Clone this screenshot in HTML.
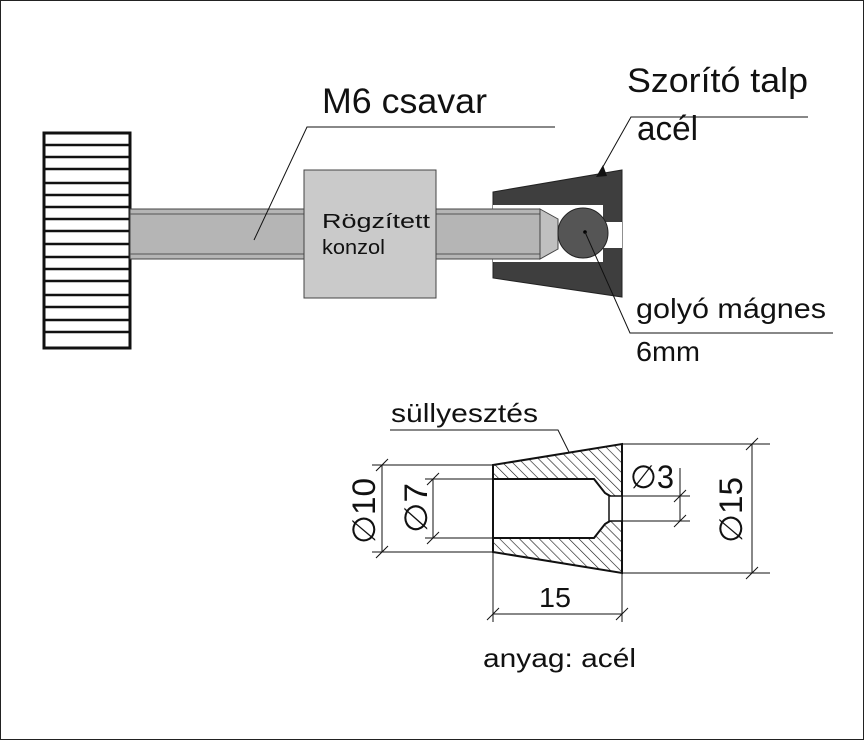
<!DOCTYPE html>
<html><head><style>body{margin:0;background:#fff}svg{display:block}text{font-family:"Liberation Sans",sans-serif;fill:#111}</style></head><body>
<svg width="864" height="740" viewBox="0 0 864 740" xmlns="http://www.w3.org/2000/svg">
<defs><pattern id="h" patternUnits="userSpaceOnUse" width="7" height="7" patternTransform="rotate(-45)"><rect width="7" height="7" fill="#fff"/><line x1="0" y1="0" x2="0" y2="7" stroke="#111" stroke-width="1.2"/></pattern></defs>
<rect x="0.5" y="0.5" width="863" height="739" fill="#fff" stroke="#222"/>
<rect x="44" y="133" width="86" height="215" fill="#fff" stroke="#111" stroke-width="3"/>
<g stroke="#111" stroke-width="2.5">
<line x1="44" y1="145" x2="130" y2="145"/><line x1="44" y1="157" x2="130" y2="157"/><line x1="44" y1="169" x2="130" y2="169"/><line x1="44" y1="183" x2="130" y2="183"/><line x1="44" y1="195" x2="130" y2="195"/><line x1="44" y1="207" x2="130" y2="207"/><line x1="44" y1="219" x2="130" y2="219"/><line x1="44" y1="231" x2="130" y2="231"/><line x1="44" y1="244" x2="130" y2="244"/><line x1="44" y1="257" x2="130" y2="257"/><line x1="44" y1="269" x2="130" y2="269"/><line x1="44" y1="281" x2="130" y2="281"/><line x1="44" y1="295" x2="130" y2="295"/><line x1="44" y1="307" x2="130" y2="307"/><line x1="44" y1="320" x2="130" y2="320"/><line x1="44" y1="332" x2="130" y2="332"/></g>
<polygon points="493,192 622,170 622,297 493,278" fill="#3e3e3e" stroke="#222"/>
<rect x="493" y="205" width="110" height="57" fill="#fff"/>
<rect x="600" y="222" width="22" height="26" fill="#fff"/>
<rect x="130" y="209" width="410" height="50" fill="#b5b5b5" stroke="#444"/>
<line x1="130" y1="214" x2="540" y2="214" stroke="#555"/><line x1="130" y1="254" x2="540" y2="254" stroke="#555"/>
<polygon points="540,209 558,219 558,249 540,259" fill="#c0c0c0" stroke="#444"/>
<circle cx="583" cy="233" r="25" fill="#555" stroke="#222"/>
<circle cx="585" cy="232" r="1.8" fill="#000"/>
<rect x="304" y="170" width="132" height="128" fill="#cacaca" stroke="#444"/>
<text x="322" y="228" font-size="20" textLength="108" lengthAdjust="spacingAndGlyphs">Rögzített</text><text x="322" y="254" font-size="20" textLength="63" lengthAdjust="spacingAndGlyphs">konzol</text>
<g stroke="#111" stroke-width="1" fill="none">
<polyline points="254,240 307,127 555,127"/>
<polyline points="600,172 631,117 808,117"/>
<polyline points="585,232 630,333 833,333"/>
<polyline points="390,430 558,430 603,520"/>
</g>
<polygon points="596,177 603,165 607,176" fill="#111"/>
<polygon points="597,515 607,512 604,524" fill="#111"/>
<text x="322" y="113" font-size="35" textLength="165" lengthAdjust="spacingAndGlyphs">M6 csavar</text>
<text x="627" y="92" font-size="34" textLength="181" lengthAdjust="spacingAndGlyphs">Szorító talp</text>
<text x="637" y="140" font-size="34" textLength="61" lengthAdjust="spacingAndGlyphs">acél</text>
<text x="636" y="318" font-size="28" textLength="190" lengthAdjust="spacingAndGlyphs">golyó mágnes</text>
<text x="636" y="361" font-size="28" textLength="64" lengthAdjust="spacingAndGlyphs">6mm</text>
<text x="391" y="422" font-size="26" textLength="147" lengthAdjust="spacingAndGlyphs">süllyesztés</text>
<polygon points="493,465 622,444 622,573 493,552" fill="url(#h)" stroke="#111" stroke-width="2"/>
<polygon points="493,479 594,479 605,493 610,496 610,521 605,524 594,538 493,538" fill="#fff" stroke="#111" stroke-width="2"/>
<rect x="609" y="496" width="13" height="25" fill="#fff" stroke="#111" stroke-width="1.5"/>
<g stroke="#111" stroke-width="1">
<line x1="372" y1="465" x2="493" y2="465"/><line x1="372" y1="552" x2="493" y2="552"/><line x1="382" y1="465" x2="382" y2="552"/>
<line x1="376" y1="471" x2="388" y2="459"/><line x1="376" y1="558" x2="388" y2="546"/>
<line x1="425" y1="479" x2="493" y2="479"/><line x1="425" y1="538" x2="493" y2="538"/><line x1="433" y1="479" x2="433" y2="538"/>
<line x1="427" y1="485" x2="439" y2="473"/><line x1="427" y1="544" x2="439" y2="532"/>
<line x1="622" y1="496" x2="690" y2="496"/><line x1="622" y1="521" x2="690" y2="521"/><line x1="680" y1="468" x2="680" y2="521"/>
<line x1="674" y1="502" x2="686" y2="490"/><line x1="674" y1="527" x2="686" y2="515"/>
<line x1="622" y1="444" x2="770" y2="444"/><line x1="622" y1="573" x2="770" y2="573"/><line x1="752" y1="444" x2="752" y2="573"/>
<line x1="746" y1="450" x2="758" y2="438"/><line x1="746" y1="579" x2="758" y2="567"/>
<line x1="493" y1="552" x2="493" y2="622"/><line x1="622" y1="573" x2="622" y2="622"/><line x1="493" y1="614" x2="622" y2="614"/>
<line x1="487" y1="620" x2="499" y2="608"/><line x1="616" y1="620" x2="628" y2="608"/>
</g>
<text font-size="32" transform="translate(375,511) rotate(-90)" text-anchor="middle" textLength="66" lengthAdjust="spacingAndGlyphs">∅10</text>
<text font-size="32" transform="translate(427,508) rotate(-90)" text-anchor="middle" textLength="50" lengthAdjust="spacingAndGlyphs">∅7</text>
<text font-size="32" transform="translate(742,510) rotate(-90)" text-anchor="middle" textLength="66" lengthAdjust="spacingAndGlyphs">∅15</text>
<text x="630" y="488" font-size="32" textLength="44" lengthAdjust="spacingAndGlyphs">∅3</text>
<text x="539" y="607" font-size="28" textLength="32" lengthAdjust="spacingAndGlyphs">15</text>
<text x="483" y="667" font-size="26" textLength="153" lengthAdjust="spacingAndGlyphs">anyag: acél</text>
</svg>
</body></html>
